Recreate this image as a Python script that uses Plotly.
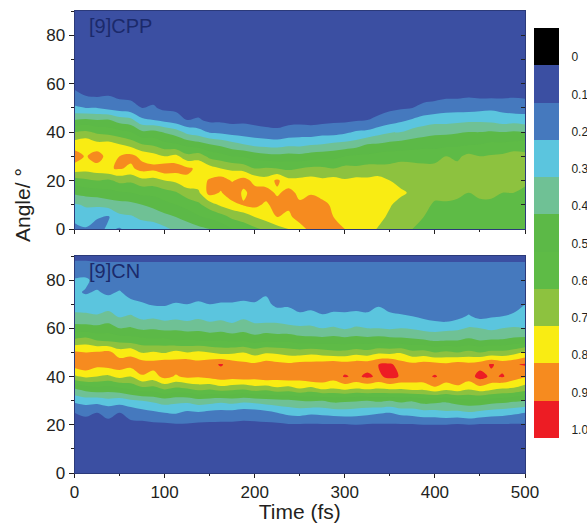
import numpy as np
import plotly.graph_objects as go

W, H = 587, 523
times = [12.5 * i for i in range(41)]
angles = list(range(0, 91, 5))

# population (%): one list per time, from angle 0 to angle 90
cpp_columns = [
    [17,23,29,42,55,76,85,75,60,40,22,12,8,6,5,4,4,4,4],
    [19,26,31,44,58,74,79,78,62,42,20,10,7,6,5,4,4,4,4],
    [16,21,32,45,60,76,85,73,58,40,20,9,7,5,5,4,4,4,4],
    [22,19,34,47,58,79,76,74,56,41,17,10,6,5,5,4,4,4,4],
    [19,28,36,49,63,81,80,70,53,35,15,8,6,5,5,4,4,4,4],
    [24,29,37,50,62,78,83,66,50,33,13,8,6,5,5,4,4,4,4],
    [25,32,40,53,67,84,77,60,42,22,10,7,6,5,5,4,4,4,4],
    [26,33,43,53,66,83,74,58,43,20,11,7,5,5,4,4,4,4,4],
    [28,37,47,56,70,87,70,53,39,17,8,6,5,5,4,4,4,4,4],
    [32,40,50,59,72,85,73,51,35,14,8,6,5,5,4,4,4,4,4],
    [34,44,54,65,78,82,63,47,27,10,7,5,5,5,4,4,4,4,4],
    [37,49,58,68,76,78,66,44,24,11,6,5,5,4,4,4,4,4,4],
    [40,52,65,84,81,74,57,40,19,8,6,5,5,4,4,4,4,4,4],
    [44,56,72,79,85,70,54,37,18,8,6,5,4,4,4,4,4,4,4],
    [50,62,76,88,79,68,50,33,16,7,5,5,4,4,4,4,4,4,4],
    [55,64,81,78,84,66,49,30,15,8,5,5,4,4,4,4,4,4,4],
    [58,70,83,84,77,60,46,27,14,7,5,5,4,4,4,4,4,4,4],
    [62,74,78,85,74,61,44,26,13,6,5,4,4,4,4,4,4,4,4],
    [66,80,85,78,82,60,43,25,12,6,5,4,4,4,4,4,4,4,4],
    [70,78,82,84,73,58,44,27,14,7,5,4,4,4,4,4,4,4,4],
    [76,84,82,77,73,60,43,27,15,7,5,4,4,4,4,4,4,4,4],
    [83,88,85,79,74,62,45,29,14,7,5,4,4,4,4,4,4,4,4],
    [82,87,83,76,72,62,46,30,16,7,5,4,4,4,4,4,4,4,4],
    [84,80,78,77,74,60,47,32,16,8,5,4,4,4,4,4,4,4,4],
    [80,75,76,73,71,63,50,33,18,8,5,4,4,4,4,4,4,4,4],
    [76,78,72,75,73,62,52,35,21,9,5,4,4,4,4,4,4,4,4],
    [74,76,75,74,72,64,52,40,22,10,6,5,4,4,4,4,4,4,4],
    [69,73,72,76,74,63,54,41,26,12,7,5,4,4,4,4,4,4,4],
    [66,68,71,73,70,63,55,43,29,15,8,5,4,4,4,4,4,4,4],
    [63,66,66,72,66,66,55,44,30,18,9,5,4,4,4,4,4,4,4],
    [60,63,65,68,67,64,56,45,34,21,10,6,5,4,4,4,4,4,4],
    [57,60,62,64,68,62,57,46,36,24,13,6,5,4,4,4,4,4,4],
    [55,57,59,62,64,63,56,46,38,26,14,7,5,4,4,4,4,4,4],
    [54,56,58,65,62,66,60,47,38,26,16,8,5,4,4,4,4,4,4],
    [53,56,58,62,64,63,58,48,39,27,16,8,5,4,4,4,4,4,4],
    [53,55,59,60,66,62,63,49,40,28,16,9,5,4,4,4,4,4,4],
    [53,55,58,62,65,64,60,50,40,28,17,8,5,4,4,4,4,4,4],
    [52,54,57,63,62,66,61,52,41,27,18,8,5,4,4,4,4,4,4],
    [52,54,57,60,64,65,62,52,40,25,17,8,5,4,4,4,4,4,4],
    [51,53,56,60,63,64,65,53,41,26,15,9,5,4,4,4,4,4,4],
    [50,53,55,58,62,64,63,54,40,24,16,8,5,4,4,4,4,4,4],
]
cn_columns = [
    [5,5,5,6,8,10,22,40,68,85,82,62,44,33,24,22,21,13,8],
    [5,5,5,6,8,11,25,44,72,88,80,65,44,32,25,19,22,13,8],
    [5,5,5,6,8,10,24,47,70,83,81,60,43,31,24,21,16,12,8],
    [5,5,5,6,8,12,27,45,68,85,83,58,45,33,26,18,15,12,8],
    [5,5,5,6,8,10,25,48,73,86,75,57,40,29,22,21,14,12,8],
    [5,5,5,6,8,13,28,52,70,84,78,55,41,31,23,16,18,12,8],
    [5,5,5,6,7,16,30,57,79,86,69,54,38,27,21,15,13,12,8],
    [5,5,5,6,8,18,32,56,76,84,71,52,39,28,19,14,13,12,8],
    [5,5,5,6,8,20,35,62,83,87,69,53,37,26,19,13,14,12,8],
    [5,5,5,6,9,21,33,58,79,85,73,50,38,27,21,13,12,12,8],
    [5,5,5,6,9,18,33,60,82,88,70,51,36,26,20,13,12,12,8],
    [5,5,5,6,8,19,36,64,81,84,72,50,37,28,22,14,12,12,8],
    [5,5,5,6,8,17,35,62,83,87,70,49,35,26,20,13,12,12,8],
    [5,5,5,6,8,16,33,66,85,91,67,50,36,27,21,14,12,12,8],
    [5,5,5,6,8,16,35,64,84,86,68,48,34,25,21,14,12,12,8],
    [5,5,5,6,8,14,33,62,86,83,70,49,36,28,22,15,14,12,8],
    [5,5,5,6,8,15,34,66,84,82,66,46,33,26,21,15,12,12,8],
    [5,5,5,6,8,17,36,64,87,85,69,48,35,24,22,19,13,12,8],
    [5,5,5,6,8,20,37,68,85,83,68,47,34,25,18,15,13,12,8],
    [5,5,5,6,9,23,38,66,87,82,66,48,33,23,19,14,15,12,8],
    [5,5,5,6,9,24,40,70,85,84,65,45,32,22,16,13,12,12,8],
    [5,5,5,6,9,22,41,67,90,84,67,44,32,23,17,14,12,12,8],
    [5,5,5,6,9,23,40,72,88,85,65,44,30,21,15,13,12,12,8],
    [5,5,5,6,9,24,43,70,85,87,63,45,31,23,15,13,12,12,8],
    [5,5,5,6,9,25,42,73,91,85,63,44,29,22,16,13,12,12,8],
    [5,5,5,6,10,24,41,70,88,86,66,45,31,24,15,13,12,12,8],
    [5,5,5,6,9,23,40,72,92,86,64,44,30,22,16,13,12,12,8],
    [5,5,5,6,9,21,42,70,88,90,68,45,30,24,19,14,12,12,8],
    [5,5,5,6,9,20,40,72,93,92,67,44,29,22,16,13,12,12,8],
    [5,5,5,6,9,23,43,71,89,85,69,43,30,21,15,13,12,12,8],
    [5,5,5,6,9,24,41,74,86,83,63,42,29,20,14,12,12,12,8],
    [5,5,5,6,10,26,45,73,87,85,64,41,27,18,13,12,12,12,8],
    [5,5,5,6,10,26,44,78,91,84,60,39,26,16,12,12,12,12,8],
    [5,5,5,6,10,28,42,74,86,82,62,40,27,14,12,12,12,12,8],
    [5,5,5,6,9,27,46,77,88,85,60,40,28,17,12,12,12,12,8],
    [5,5,5,6,10,29,48,72,85,83,63,42,31,21,14,12,12,12,8],
    [5,5,5,6,9,27,48,76,94,86,60,40,30,17,13,12,12,12,8],
    [5,5,5,6,9,25,45,73,88,91,63,41,28,19,13,12,12,12,8],
    [5,5,5,6,9,24,44,70,91,87,63,41,30,20,14,12,12,12,8],
    [5,5,5,6,9,22,42,69,85,89,66,43,31,22,15,13,12,12,8],
    [5,5,5,6,9,20,40,65,81,91,72,44,30,22,20,14,13,12,8],
]
band_colors = ["#3B4FA2", "#4579BE", "#5BC5DE", "#6FC195", "#5CB947",
               "#5EBB46", "#8DC23F", "#F9EC13", "#F68B1F", "#ED1C24"]
legend_labels = ["0", "0.1", "0.2", "0.3", "0.4", "0.5", "0.6", "0.7", "0.8", "0.9", "1.0"]
legend_colors = ["#000000"] + band_colors


def steps(colors):
    out = []
    n = len(colors)
    for i, c in enumerate(colors):
        out += [[i / n, c], [(i + 1) / n, c]]
    return out


def band_trace(cols, xa, ya):
    return go.Contour(x=times, y=angles, z=np.array(cols).T.tolist(), xaxis=xa, yaxis=ya,
                      autocontour=False, zmin=0, zmax=100,
                      contours=dict(start=0, end=100, size=10, coloring="fill", showlines=False),
                      line=dict(width=0), colorscale=steps(band_colors), showscale=False,
                      hoverinfo="skip")


fig = go.Figure()
fig.add_trace(band_trace(cpp_columns, "x", "y"))
fig.add_trace(band_trace(cn_columns, "x2", "y2"))
fig.add_trace(go.Heatmap(z=[[i] for i in range(11)], x=[0], y=list(range(11)), xaxis="x3", yaxis="y3",
                         zmin=-0.5, zmax=10.5, colorscale=steps(legend_colors), showscale=False,
                         hoverinfo="skip"))
# empty traces so the inner right-hand tick axes get drawn
fig.add_trace(go.Scatter(x=[None], y=[None], xaxis="x", yaxis="y4", showlegend=False))
fig.add_trace(go.Scatter(x=[None], y=[None], xaxis="x2", yaxis="y5", showlegend=False))

FONT = "Liberation Sans, Arial, sans-serif"
TXT = "#231F20"
EDGE = "#2B3A7A"


def dom_x(a, b):
    return [a / W, b / W]


def dom_y(top, bot):
    return [1 - bot / H, 1 - top / H]


xcommon = dict(range=[0, 500], dtick=100, ticks="outside", ticklen=4, tickcolor=TXT, tickwidth=1,
               minor=dict(dtick=50, ticks="outside", ticklen=2, tickcolor=TXT), automargin=False,
               showgrid=False, zeroline=False, showline=True, linecolor=EDGE, linewidth=1,
               domain=dom_x(74.5, 525), mirror=True,
               tickfont=dict(family=FONT, size=17, color=TXT))
ycommon = dict(range=[0, 90], dtick=20, ticks="outside", ticklen=5, tickcolor=TXT, tickwidth=1,
               minor=dict(dtick=10, ticks="outside", ticklen=3, tickcolor=TXT), automargin=False,
               showgrid=False, zeroline=False, showline=True, linecolor=EDGE, linewidth=1, mirror=True,
               tickfont=dict(family=FONT, size=17, color=TXT))
rcommon = dict(range=[0, 90], side="right", showticklabels=False, ticks="inside", dtick=10, ticklen=4,
               tickcolor="#222222", showgrid=False, zeroline=False, showline=False, automargin=False)

fig.update_layout(
    width=W, height=H, margin=dict(l=0, r=0, t=0, b=0), paper_bgcolor="white", plot_bgcolor="white",
    showlegend=False,
    xaxis=dict(xcommon, anchor="y", showticklabels=False),
    yaxis=dict(ycommon, anchor="x", domain=dom_y(11, 229)),
    xaxis2=dict(xcommon, anchor="y2",
                title=dict(text="Time (fs)", standoff=4, font=dict(family=FONT, size=21, color=TXT))),
    yaxis2=dict(ycommon, anchor="x2", domain=dom_y(256, 473)),
    yaxis4=dict(rcommon, overlaying="y", anchor="x"),
    yaxis5=dict(rcommon, overlaying="y2", anchor="x2"),
    xaxis3=dict(domain=dom_x(534, 559), visible=False, anchor="y3", automargin=False),
    yaxis3=dict(domain=dom_y(28, 438), anchor="x3", side="right", range=[10.5, -0.5], automargin=False,
                tickmode="array", tickvals=[i + 0.28 for i in range(11)], ticktext=legend_labels,
                ticks="outside", ticklen=9, tickcolor="rgba(0,0,0,0)", showline=False, showgrid=False,
                zeroline=False, tickfont=dict(family=FONT, size=12, color=TXT)),
    annotations=[
        dict(text="Angle/ °", textangle=-90, x=22 / W, y=1 - 205 / H, xref="paper", yref="paper",
             xanchor="center", yanchor="middle", showarrow=False, font=dict(family=FONT, size=21, color=TXT)),
        dict(text="[9]CPP", x=120.5 / W, y=1 - 26 / H, xref="paper", yref="paper", xanchor="center",
             yanchor="middle", showarrow=False, font=dict(family=FONT, size=20, color="#1B2A6B")),
        dict(text="[9]CN", x=114 / W, y=1 - 271 / H, xref="paper", yref="paper", xanchor="center",
             yanchor="middle", showarrow=False, font=dict(family=FONT, size=20, color="#1B2A6B")),
    ],
)
fig.write_html("out.html", config=dict(displayModeBar=False), post_script="document.body.style.margin='0';")
